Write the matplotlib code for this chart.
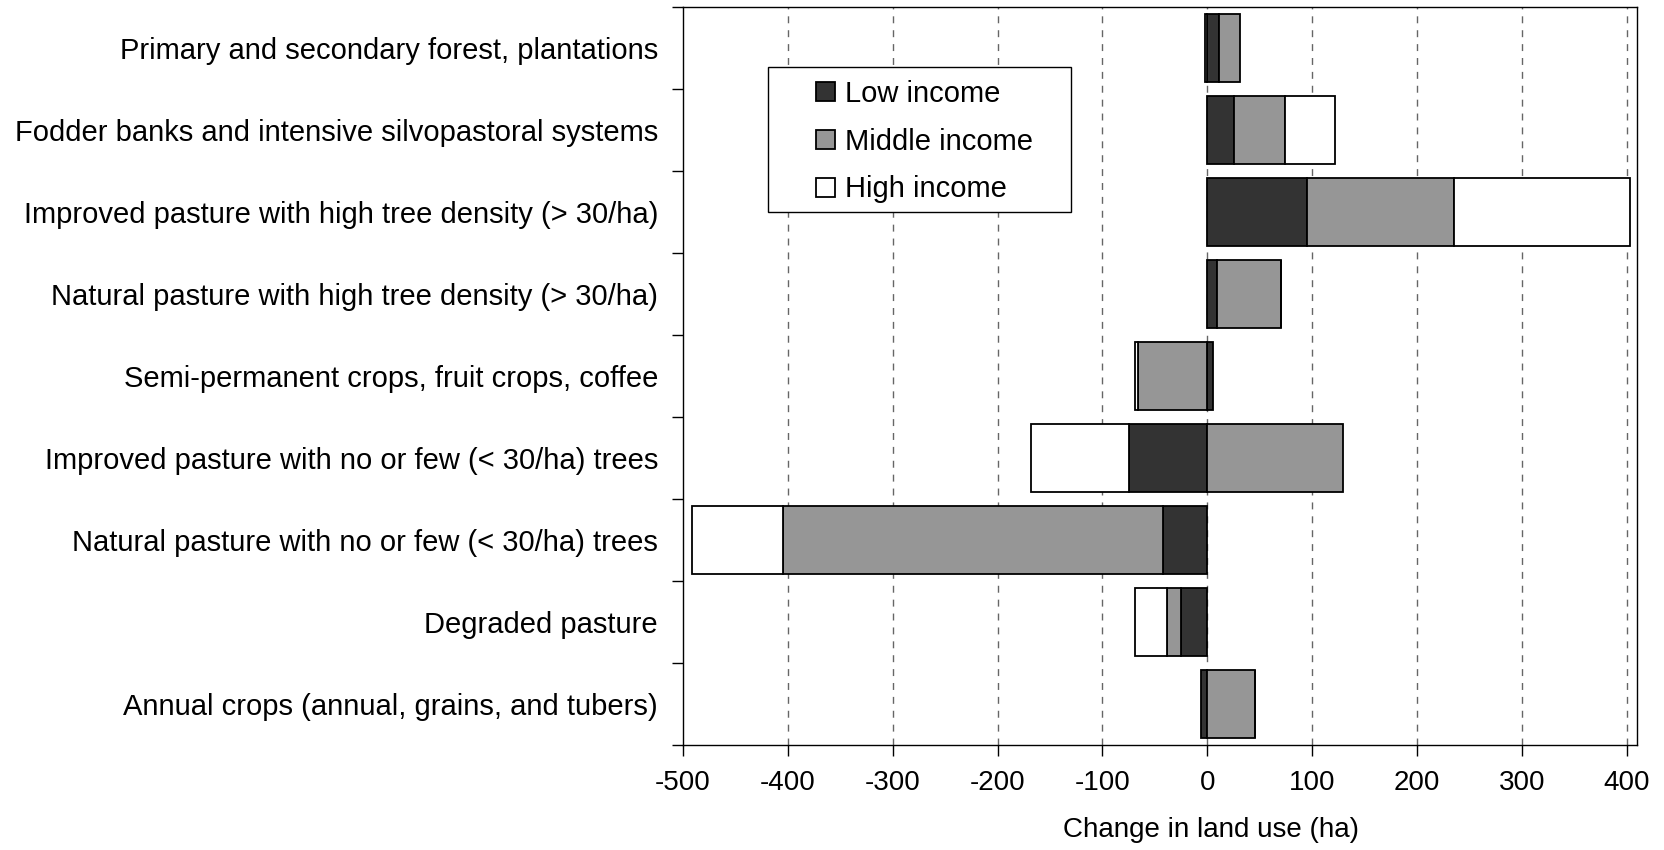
import numpy as np
import matplotlib
matplotlib.use("Agg")
import matplotlib.pyplot as plt
from matplotlib.patches import Rectangle

plt.rcParams['font.family'] = ['Liberation Sans', 'DejaVu Sans']

categories = [
    "Primary and secondary forest, plantations",
    "Fodder banks and intensive silvopastoral systems",
    "Improved pasture with high tree density (> 30/ha)",
    "Natural pasture with high tree density (> 30/ha)",
    "Semi-permanent crops, fruit crops, coffee",
    "Improved pasture with no or few (< 30/ha) trees",
    "Natural pasture with no or few (< 30/ha) trees",
    "Degraded pasture",
    "Annual crops (annual, grains, and tubers)",
]
low_income = [11, 26, 95, 9, 6, -75, -42, -25, -6]
middle_income = [20, 48, 140, 61, -66, 130, -363, -13, 46]
high_income = [-2, 48, 168, 0, -3, -93, -86, -31, 0]

series = ["Low income", "Middle income", "High income"]
colors = ["#333333", "#969696", "#ffffff"]

fig = plt.figure(figsize=(16.65, 8.5), dpi=100)
ax = fig.add_axes([0.4102, 0.1235, 0.5730, 0.8683])

y = np.arange(len(categories))
pos_base = np.zeros(len(categories))
neg_base = np.zeros(len(categories))
handles = []
for name, vals, col in zip(series, [low_income, middle_income, high_income], colors):
    vals = np.array(vals, dtype=float)
    left = np.where(vals >= 0, pos_base, neg_base)
    h = ax.barh(y, vals, left=left, height=0.83, color=col,
                edgecolor="black", linewidth=1.3, label=name, zorder=3)
    handles.append(h)
    pos_base += np.clip(vals, 0, None)
    neg_base += np.clip(vals, None, 0)

ax.set_xlim(-500, 410)
ax.set_ylim(len(categories) - 0.5, -0.5)
ax.set_xticks(np.arange(-500, 401, 100))
ax.set_xticklabels([str(v) for v in range(-500, 401, 100)])
for gx in range(-400, 401, 100):
    ax.axvline(gx, color="#666666", linestyle=(0, (5, 5)), linewidth=1.0, zorder=1)

ax.set_yticks(y)
ax.set_yticklabels(categories)
ax.set_yticks(np.arange(-0.5, len(categories), 1), minor=True)
ax.tick_params(axis="y", which="major", length=0, pad=18, labelsize=21)
ax.tick_params(axis="y", which="minor", length=8, width=1, direction="out")
ax.tick_params(axis="x", which="major", length=8, width=1, direction="out",
               labelsize=20, pad=10)

for s in ax.spines.values():
    s.set_linewidth(1.0)
    s.set_color("black")

ax.set_xlabel("Change in land use (ha)", fontsize=20)
ax.xaxis.set_label_coords(0.553, -0.097)

# legend box (drawn separately so its padding matches the original)
box = Rectangle((768 / 1665, 1 - 212 / 850), 303 / 1665, 145 / 850,
                transform=fig.transFigure, facecolor="white", edgecolor="black",
                linewidth=1.0, zorder=5, clip_on=False)
ax.add_patch(box)
leg = ax.legend(handles=handles, loc="upper left", frameon=False, fontsize=21,
                bbox_to_anchor=(810 / 1665, 1 - 74 / 850),
                bbox_transform=fig.transFigure,
                handlelength=0.65, handleheight=0.65, handletextpad=0.35,
                labelspacing=0.68, borderpad=0.2, borderaxespad=0)
leg.set_zorder(6)

fig.savefig("out.png", dpi=100)
